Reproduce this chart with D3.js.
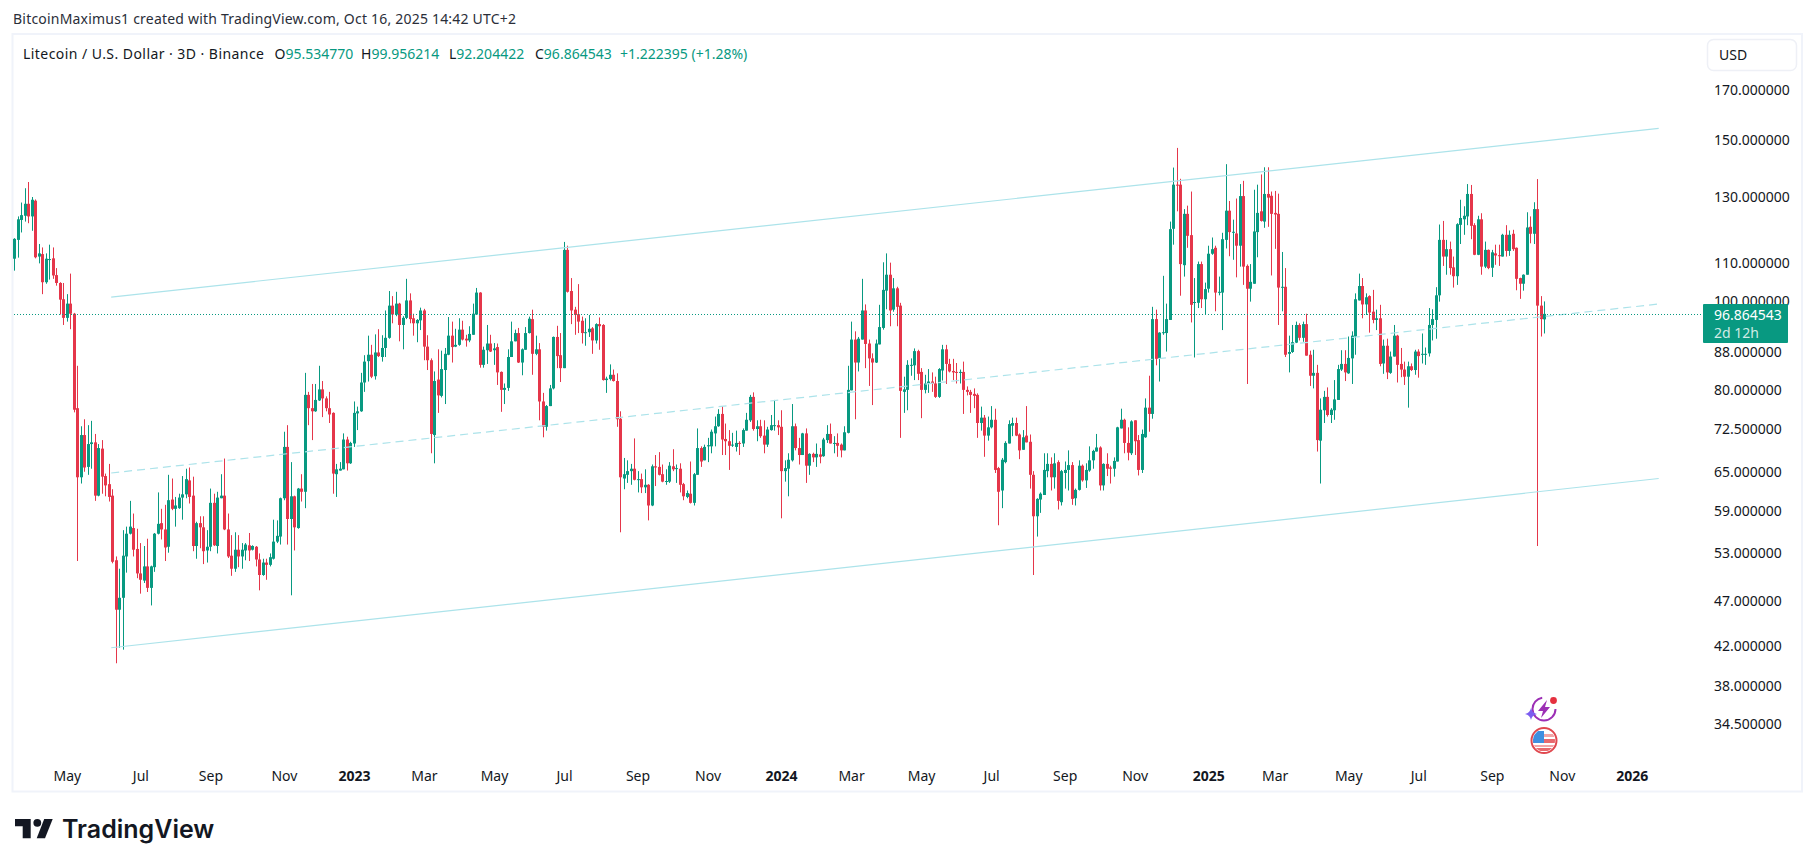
<!DOCTYPE html>
<html>
<head>
<meta charset="utf-8">
<title>LTCUSD 3D</title>
<script src="https://cdn.jsdelivr.net/npm/d3@7/dist/d3.min.js"></script>
<style>
  html, body { margin: 0; padding: 0; background: #fff; }
  svg { display: block; }
  text { font-family: "Noto Sans", "Open Sans", sans-serif; }
</style>
</head>
<body>
<svg id="chart" width="1815" height="867"></svg>
<script>
// Three-day candles, oldest first.
const opens = [
111.3,116.7,122.7,124.0,127.8,123.8,128.8,111.9,112.6,104.9,
111.0,111.4,106.8,104.7,100.5,95.9,99.4,96.9,76.4,64.2,
71.4,65.9,69.8,70.1,61.3,69.0,64.4,63.1,61.3,52.1,
46.0,47.4,52.6,55.7,56.5,53.6,50.4,49.5,51.3,48.6,
51.2,55.7,57.2,56.3,53.9,60.7,59.3,59.4,61.0,61.5,
63.7,61.3,54.0,57.2,56.6,53.4,53.9,60.2,54.0,60.9,
61.3,56.3,52.7,51.0,53.5,52.6,53.4,54.1,53.5,53.9,
52.2,50.2,51.8,51.5,52.3,54.6,55.3,60.9,69.3,57.8,
61.2,56.5,62.4,61.9,79.0,76.4,75.8,77.9,80.1,78.3,
76.4,75.5,64.7,65.3,65.5,70.6,66.5,69.9,75.4,75.8,
81.5,86.0,87.4,82.8,87.9,86.9,88.9,91.2,98.9,96.7,
99.4,94.2,95.9,100.2,95.8,94.6,95.3,97.7,89.2,86.2,
71.4,82.1,78.8,84.1,87.4,91.7,89.2,89.6,93.1,91.0,
90.6,91.9,96.7,102.2,85.2,88.4,89.9,88.4,89.1,83.7,
80.0,80.4,86.9,90.4,92.3,85.7,88.5,92.3,95.6,87.6,
88.6,77.7,72.9,76.8,80.3,91.4,87.3,84.5,113.8,102.6,
97.9,96.8,95.2,92.4,92.5,93.4,90.6,94.4,94.2,82.0,
82.2,83.1,81.8,74.4,64.0,64.6,65.2,65.6,63.8,63.9,
62.6,63.0,59.8,66.0,65.9,64.7,63.5,63.5,66.0,65.6,
65.6,63.1,61.1,61.6,60.2,64.6,69.1,67.0,69.4,69.4,
71.7,73.0,75.3,70.7,70.3,69.6,69.3,70.0,69.9,72.2,
74.1,78.6,72.5,73.0,71.3,69.7,72.3,73.1,73.2,72.9,
65.2,65.6,67.0,73.0,69.1,67.9,71.7,66.1,68.1,67.5,
68.0,67.7,70.5,71.6,69.9,70.0,69.7,68.7,71.8,79.9,
90.8,85.7,90.8,97.7,89.9,86.6,85.7,89.7,93.5,102.7,
106.9,97.9,103.3,98.9,79.6,80.0,85.1,85.1,88.2,83.7,
80.0,81.3,81.7,81.3,78.6,84.0,88.6,85.4,83.9,83.7,
83.6,83.7,80.0,79.6,79.2,79.0,73.6,74.6,71.3,72.8,
74.2,65.7,62.1,66.7,69.9,73.1,73.6,71.5,68.8,71.3,
70.2,64.6,58.2,60.7,61.4,65.2,66.4,64.2,66.7,60.3,
64.9,65.4,66.2,60.9,62.2,66.1,63.7,65.3,67.0,68.5,
69.2,62.9,66.4,65.8,65.6,66.8,72.6,74.2,70.0,68.2,
74.1,70.5,65.4,71.0,76.5,75.3,95.6,86.5,92.3,92.3,
95.4,120.0,134.1,134.1,109.5,124.6,118.1,99.6,99.6,109.8,
100.5,103.2,112.7,114.4,102.2,102.2,116.7,125.6,119.0,118.6,
115.0,130.3,109.3,103.2,104.5,119.0,125.4,122.2,131.0,130.4,
124.9,124.6,103.5,103.7,87.6,88.0,90.1,94.2,91.2,94.4,
87.4,82.9,83.5,70.4,76.0,78.6,75.1,76.0,78.0,84.2,
85.4,83.4,86.6,91.5,100.2,103.9,99.2,101.3,97.4,95.4,
95.8,85.5,89.4,83.5,87.0,91.7,85.4,84.2,82.7,84.9,
84.1,88.1,87.4,87.4,87.7,94.2,95.4,101.5,116.7,111.9,
114.0,108.9,106.5,121.2,122.9,123.8,131.0,121.1,112.4,122.9,
109.1,113.8,108.8,112.8,112.3,111.9,118.2,113.5,118.5,114.4,
106.0,104.5,106.9,120.6,118.5,126.1,98.9,95.53477];

const highs = [
117.2,123.8,128.2,132.9,135.0,130.0,129.2,115.5,114.5,112.8,
115.3,114.5,108.7,104.9,104.7,101.8,107.2,97.1,85.0,73.0,
74.3,73.2,74.0,71.6,69.8,70.5,64.8,66.4,62.3,52.6,
51.0,56.2,56.7,60.5,58.6,56.4,54.4,54.0,55.0,51.4,
55.8,61.8,59.3,59.9,64.6,64.0,61.1,61.6,64.4,65.6,
65.8,64.3,57.4,58.2,58.2,56.2,62.4,61.6,61.9,64.7,
67.3,58.6,55.5,55.9,55.5,54.4,54.4,55.8,54.1,54.0,
53.0,52.3,52.3,53.0,57.7,57.6,61.0,72.0,73.2,66.7,
61.3,62.5,64.7,83.5,79.6,81.2,81.2,85.0,81.8,78.7,
79.6,75.6,66.4,66.7,71.7,71.1,70.2,77.7,76.7,83.5,
87.3,91.7,89.6,92.0,93.2,91.8,97.7,102.6,101.3,102.4,
99.6,96.3,105.8,102.0,96.9,95.6,98.4,98.1,91.8,86.6,
83.8,88.6,88.3,88.9,96.1,95.0,93.3,95.8,95.2,91.9,
93.9,99.4,103.4,102.3,89.2,94.2,91.9,90.0,89.9,83.8,
81.3,88.6,95.0,93.1,93.5,88.8,93.7,96.2,97.9,91.7,
90.0,79.4,77.0,81.0,91.5,94.0,92.3,116.1,115.0,106.0,
98.6,104.4,96.2,95.8,96.6,93.7,94.6,96.0,94.4,82.7,
85.3,84.2,83.4,75.8,67.4,67.0,66.4,70.8,65.2,64.8,
65.5,63.1,66.3,67.9,68.4,66.3,65.5,66.7,68.9,66.3,
66.5,63.3,62.1,66.8,64.9,72.6,69.4,69.7,70.9,72.4,
74.8,76.2,76.8,73.5,72.3,71.8,72.2,70.3,72.6,75.5,
79.0,79.5,74.1,74.2,74.1,72.9,75.1,78.0,74.1,76.0,
67.0,68.2,77.2,73.5,70.9,71.8,72.6,68.2,68.3,69.9,
69.1,70.9,73.2,73.5,71.2,71.7,69.9,73.0,85.0,95.0,
92.7,91.4,105.8,99.2,90.8,87.7,90.8,99.1,110.3,112.8,
110.2,106.0,103.7,99.6,82.7,86.2,86.6,88.8,88.5,84.5,
83.1,84.3,83.6,82.7,84.5,89.6,89.6,86.5,86.5,85.6,
84.2,85.9,80.7,80.0,80.3,79.3,76.7,75.1,74.8,76.8,
76.3,65.9,67.4,70.3,74.1,74.6,74.6,71.7,72.3,76.8,
71.5,65.2,60.9,61.8,68.2,68.2,67.5,68.2,67.0,65.4,
66.8,68.7,66.7,62.4,67.0,66.3,66.5,69.4,68.8,71.6,
69.4,66.5,68.2,66.1,67.5,72.9,76.3,74.4,72.8,74.1,
74.1,71.4,72.4,78.3,82.9,98.6,97.9,92.5,106.6,99.4,
122.2,140.0,147.1,136.1,126.1,127.2,131.8,106.0,110.5,110.5,
104.8,115.0,117.4,115.0,106.4,118.8,141.2,128.7,122.8,129.5,
134.3,135.4,109.7,109.8,132.4,134.1,137.6,140.1,140.1,131.8,
132.0,131.1,113.2,108.7,91.7,94.2,95.0,94.6,95.0,96.9,
88.3,88.5,85.2,78.3,79.8,80.5,76.4,82.0,85.2,88.4,
88.4,91.5,92.7,102.0,107.2,106.0,102.0,101.5,102.9,97.9,
99.1,90.8,91.0,88.1,94.2,91.9,88.9,85.9,85.9,85.5,
88.5,88.6,92.2,89.0,98.3,98.0,103.6,121.3,122.4,116.7,
116.2,111.9,121.7,129.1,127.0,134.3,134.0,121.7,124.0,124.8,
116.2,113.9,113.8,115.3,115.3,118.5,121.1,119.5,119.7,114.5,
106.1,107.0,125.1,123.8,128.3,136.0,101.3,99.956214];

const lows = [
108.0,111.6,118.9,122.2,121.7,119.4,111.4,110.0,101.8,104.5,
105.6,105.8,104.0,96.7,94.2,95.0,93.2,75.6,52.0,63.2,
65.1,64.6,65.6,60.5,61.2,61.6,61.2,60.4,51.7,40.2,
41.8,41.6,50.5,55.6,52.6,49.8,47.9,49.2,48.1,46.5,
50.6,55.6,54.9,52.0,53.1,59.1,56.7,59.3,57.7,60.9,
60.1,53.3,52.3,53.7,51.6,51.8,53.3,54.0,53.0,60.9,
56.2,52.4,50.1,50.6,51.2,51.0,52.1,52.0,53.4,51.3,
48.3,50.1,49.6,51.3,52.2,54.4,54.2,60.6,54.2,47.7,
53.4,56.4,60.4,59.4,73.2,70.5,75.7,77.8,74.7,75.8,
73.6,61.6,61.1,65.3,65.5,65.3,66.4,69.3,72.3,75.7,
79.6,81.7,82.4,82.1,86.9,85.9,86.9,91.0,94.6,96.3,
90.4,88.6,95.6,94.6,91.7,90.2,93.0,86.2,84.1,68.2,
66.5,75.5,78.5,77.2,87.3,85.7,89.1,89.4,90.6,89.2,
90.2,91.9,96.6,84.6,84.6,85.4,88.0,85.2,81.0,75.7,
77.2,79.8,86.9,90.4,85.6,83.0,88.5,92.2,83.1,87.3,
74.1,71.0,72.2,76.8,80.1,84.5,81.6,84.5,102.2,94.4,
91.9,92.3,89.9,89.4,91.4,87.6,89.9,88.5,81.9,79.4,
81.9,81.7,72.9,55.9,62.3,63.3,63.0,63.7,61.8,61.7,
61.7,57.6,59.7,62.8,64.5,63.4,63.0,63.3,65.2,63.3,
61.8,60.6,60.9,60.1,59.8,64.6,65.9,67.0,66.7,68.2,
69.4,72.9,67.9,67.9,65.4,69.3,68.5,67.9,69.3,72.2,
73.8,72.2,70.3,70.9,68.2,69.3,72.2,72.2,71.4,57.9,
63.5,61.2,66.8,68.7,66.3,67.9,63.3,64.6,66.7,65.9,
66.5,67.6,70.0,69.9,68.2,67.6,67.5,68.7,71.7,79.9,
74.3,83.8,90.8,84.5,80.8,77.0,85.6,89.7,93.1,98.0,
93.9,97.4,93.9,70.9,75.5,76.0,82.9,82.0,82.0,74.5,
79.3,79.4,79.6,78.4,78.4,81.9,81.2,83.6,82.0,81.3,
81.3,75.3,78.9,75.5,76.4,70.9,72.2,67.6,70.4,72.6,
64.9,56.9,59.4,66.5,69.9,71.2,71.2,67.2,68.8,70.1,
62.4,50.2,55.3,58.7,61.4,64.2,62.1,62.4,59.2,59.8,
62.4,62.1,59.9,59.8,62.1,63.5,62.5,65.1,65.6,68.5,
62.1,62.1,64.4,63.2,64.3,66.8,72.6,68.2,67.0,67.9,
67.9,64.5,64.9,70.9,72.0,74.4,85.1,81.7,91.9,88.1,
95.4,115.3,125.4,101.4,106.4,114.4,94.8,86.8,98.3,98.3,
96.8,102.2,112.4,97.5,101.5,93.0,114.2,112.0,111.0,106.2,
109.1,104.2,81.2,99.9,104.5,111.7,122.2,120.3,120.6,106.7,
114.1,94.2,97.5,86.9,83.6,87.8,90.0,90.6,90.3,87.2,
80.8,80.3,68.5,63.2,73.6,74.8,73.6,74.2,78.0,83.9,
81.8,83.3,81.2,87.4,100.2,95.8,96.6,92.4,94.6,93.0,
84.9,83.3,82.2,83.3,87.0,81.5,82.6,81.0,76.5,83.9,
83.1,82.5,85.5,85.2,87.0,90.6,91.0,99.9,109.3,106.9,
106.9,103.5,104.2,115.5,118.2,121.1,116.9,112.3,112.3,106.9,
108.7,108.4,106.3,109.6,109.3,111.9,111.9,112.1,113.5,102.8,
100.6,102.7,106.9,115.7,115.5,54.0,91.5,92.204422];

const closes = [
117.0,122.9,124.2,127.8,123.8,129.1,111.7,112.8,104.9,111.3,
111.2,106.7,104.7,100.4,95.9,99.4,96.9,76.1,64.2,71.4,
65.8,69.8,70.1,61.3,69.1,64.3,62.9,61.1,51.9,46.0,
47.4,52.7,55.7,56.7,53.5,50.4,49.6,51.3,48.6,51.3,
55.7,57.1,56.3,53.8,60.6,59.3,59.8,61.0,61.5,63.9,
61.1,54.0,57.2,56.6,53.3,53.9,60.2,54.1,61.0,61.3,
56.3,52.6,51.0,53.5,52.6,53.5,54.2,53.4,54.0,52.2,
50.2,51.8,51.5,52.5,54.6,55.4,60.9,69.3,57.8,61.2,
56.6,62.4,61.9,79.0,76.4,75.8,78.0,80.1,78.3,76.4,
75.2,64.8,65.5,65.6,70.6,66.5,70.0,75.5,75.8,81.5,
85.9,87.4,82.7,87.9,87.1,88.9,91.2,98.9,96.7,99.4,
94.2,95.9,100.2,95.6,94.6,95.4,97.7,89.2,86.2,71.6,
81.8,78.9,84.3,87.6,91.7,89.1,89.6,93.1,90.8,90.6,
92.1,96.9,102.2,85.2,88.5,89.9,88.1,88.8,83.6,80.0,
80.4,86.9,90.4,92.3,85.7,88.6,92.3,95.7,87.6,88.6,
77.7,72.9,76.8,80.3,91.4,87.1,84.5,113.8,102.4,97.7,
96.6,95.0,92.3,92.5,93.3,90.6,94.4,93.9,82.0,82.3,
83.1,81.8,74.3,64.2,64.7,65.2,65.6,63.8,63.9,62.6,
63.0,59.8,66.0,65.8,64.6,63.5,63.6,66.1,65.5,65.7,
63.0,61.2,61.7,60.2,64.7,69.1,66.8,69.3,69.6,72.0,
73.0,75.3,70.6,70.3,69.5,69.7,70.0,69.9,72.3,74.2,
78.6,72.5,73.0,71.2,69.7,72.4,73.2,73.2,72.8,65.2,
65.7,67.1,73.0,69.1,67.9,71.7,66.1,68.1,67.5,68.1,
67.6,70.6,71.6,69.9,70.0,69.5,68.7,71.9,80.0,90.8,
85.7,91.0,97.7,89.8,86.6,85.7,89.9,93.7,102.9,106.9,
97.7,103.3,98.6,79.8,80.1,85.2,85.2,88.2,83.3,80.0,
81.3,81.7,81.3,78.6,84.3,88.6,85.4,83.8,83.6,83.6,
83.7,80.0,79.6,79.0,78.8,73.6,74.6,71.3,72.8,74.2,
65.4,61.9,67.1,70.0,73.4,73.6,71.3,68.7,71.0,70.1,
64.6,58.2,60.8,61.6,65.4,66.4,64.2,66.5,60.5,65.2,
65.4,66.2,60.8,62.2,66.1,63.7,65.4,67.0,68.6,69.2,
62.9,66.4,65.6,65.6,66.9,72.8,74.2,70.0,68.3,73.9,
70.3,65.4,71.6,76.5,75.3,95.6,86.5,92.4,92.5,95.6,
119.9,134.1,133.9,109.8,124.6,117.9,99.1,99.8,109.8,100.5,
103.1,112.7,114.0,102.2,102.4,116.9,125.6,119.0,119.1,115.0,
130.3,109.1,103.2,105.0,119.2,124.9,122.4,131.0,129.8,124.6,
124.4,103.5,103.7,87.4,88.0,90.2,94.2,91.2,94.4,87.2,
82.9,83.5,70.5,76.1,78.6,75.1,76.1,78.1,84.3,85.4,
83.6,86.7,91.7,100.5,103.9,99.2,101.0,97.2,95.4,95.8,
85.4,89.4,83.6,87.0,91.7,85.2,84.2,82.7,84.9,84.1,
88.1,87.1,87.6,87.6,94.2,95.6,101.5,116.7,111.9,114.0,
108.7,106.5,121.4,123.3,124.0,131.0,120.9,112.4,122.9,109.1,
113.8,108.7,113.1,112.2,112.0,118.2,113.5,118.2,114.0,105.8,
104.5,106.9,120.4,118.5,126.1,98.9,95.6,96.864543];

// Price axis and time axis labels.
const priceTicks = [170, 150, 130, 110, 100, 88, 80, 72.5, 65, 59, 53, 47, 42, 38, 34.5];
const monthTicks = ["2022-05-01","2022-07-01","2022-09-01","2022-11-01","2023-01-01","2023-03-01",
  "2023-05-01","2023-07-01","2023-09-01","2023-11-01","2024-01-01","2024-03-01","2024-05-01",
  "2024-07-01","2024-09-01","2024-11-01","2025-01-01","2025-03-01","2025-05-01","2025-07-01",
  "2025-09-01","2025-11-01","2026-01-01"];

// Parallel channel drawn on the chart: [date, price] at each end.
const channelUpper = [["2022-06-06", 101.05], ["2026-01-22", 154.5]];
const channelMiddle = [["2022-06-06", 64.9], ["2026-01-22", 99.3]];
const channelLower = [["2022-06-06", 41.8], ["2026-01-22", 64.0]];

const legendTitle = "Litecoin / U.S. Dollar · 3D · Binance";
const legendChange = "+1.222395 (+1.28%)";
const credit = "BitcoinMaximus1 created with TradingView.com, Oct 16, 2025 14:42 UTC+2";
const lastBarDate = "2025-10-16";
const barDays = 3;
const countdown = "2d 12h";

const UP = "#089981", DOWN = "#e5364a", CHANNEL = "#ace3ea", INK = "#131722";

const svg = d3.select("#chart");
const parse = d3.utcParse("%Y-%m-%d");
const n = closes.length;
const lastDate = parse(lastBarDate);
const dates = closes.map((_, i) => d3.utcDay.offset(lastDate, -barDays * (n - 1 - i)));

const x = d3.scaleUtc().domain([dates[0], lastDate]).range([14.33, 1544.3]);
const y = d3.scaleLog().domain([130, 34.5]).range([197, 724]);

// A month label sits on the bar that contains the first of that month.
const barOf = d => {
  const days = d3.utcDay.count(lastDate, d);
  return d3.utcDay.offset(lastDate, barDays * Math.floor(days / barDays));
};

// Panel outline
svg.append("rect").attr("x", 12.5).attr("y", 34).attr("width", 1789.5).attr("height", 757.5)
  .attr("fill", "#fff").attr("stroke", "#f0f3fa").attr("stroke-width", 2);

// Candles: one wick and one body per bar, snapped to whole pixels.
const candles = svg.append("g").attr("class", "candles")
  .selectAll("g").data(d3.range(n)).join("g")
  .attr("fill", i => closes[i] >= opens[i] ? UP : DOWN);
candles.append("rect")
  .attr("x", i => Math.round(x(dates[i])))
  .attr("width", 1)
  .attr("y", i => y(highs[i]))
  .attr("height", i => y(lows[i]) - y(highs[i]));
candles.append("rect")
  .attr("x", i => Math.round(x(dates[i])) - 1)
  .attr("width", 3)
  .attr("y", i => Math.min(y(opens[i]), y(closes[i])))
  .attr("height", i => Math.max(1, Math.abs(y(opens[i]) - y(closes[i]))));

// Channel lines
const channelLine = d3.line().x(d => x(parse(d[0]))).y(d => y(d[1]));
[channelUpper, channelLower].forEach(pts =>
  svg.append("path").attr("d", channelLine(pts)).attr("fill", "none")
    .attr("stroke", CHANNEL).attr("stroke-width", 1.2));
svg.append("path").attr("d", channelLine(channelMiddle)).attr("fill", "none")
  .attr("stroke", CHANNEL).attr("stroke-width", 1.2).attr("stroke-dasharray", "8 5");

// Last-price line
const lastClose = closes[n - 1];
svg.append("line").attr("x1", 14).attr("x2", 1703)
  .attr("y1", Math.round(y(lastClose)) + 0.5).attr("y2", Math.round(y(lastClose)) + 0.5)
  .attr("stroke", UP).attr("stroke-width", 1).attr("stroke-dasharray", "1 2");

// Price axis
const yAxis = svg.append("g").attr("transform", "translate(1714,0)")
  .call(d3.axisRight(y).tickValues(priceTicks).tickSize(0).tickPadding(0).tickFormat(d3.format(".6f")));
yAxis.select(".domain").remove();
yAxis.selectAll("text").attr("font-size", 14).attr("fill", INK);
yAxis.attr("font-family", null);

// Time axis: years are set in bold
const monthDates = monthTicks.map(parse);
const isYear = i => monthDates[i].getUTCMonth() === 0;
const xAxis = svg.append("g").attr("transform", "translate(0,771)")
  .call(d3.axisBottom(x).tickValues(monthDates.map(barOf)).tickSize(0).tickPadding(0)
    .tickFormat((_, i) => d3.utcFormat(isYear(i) ? "%Y" : "%b")(monthDates[i])));
xAxis.select(".domain").remove();
xAxis.attr("font-family", null);
xAxis.selectAll("text").attr("font-size", 14).attr("fill", INK)
  .attr("font-weight", (_, i) => isYear(i) ? 700 : 400);

// Last-price tag
const tagY = y(lastClose);
svg.append("rect").attr("x", 1703).attr("y", tagY - 10).attr("width", 85).attr("height", 39)
  .attr("rx", 1).attr("fill", UP);
svg.append("text").attr("x", 1714).attr("y", tagY + 6).attr("font-size", 14).attr("fill", "#fff")
  .text(lastClose.toFixed(6));
svg.append("text").attr("x", 1714).attr("y", tagY + 24).attr("font-size", 14)
  .attr("fill", "rgba(255,255,255,0.82)").text(countdown);

// Credit line
svg.append("text").attr("x", 13).attr("y", 24).attr("font-size", 14).attr("fill", "#2a2e39")
  .attr("textLength", 503).attr("lengthAdjust", "spacing").text(credit);

// Legend
svg.append("text").attr("x", 23).attr("y", 58.5).attr("font-size", 14).attr("fill", INK)
  .attr("textLength", 241).attr("lengthAdjust", "spacing").text(legendTitle);
const legend = svg.append("text").attr("y", 58.5).attr("font-size", 14).attr("fill", INK);
const ohlc = [["O", opens[n - 1], 274.5], ["H", highs[n - 1], 361], ["L", lows[n - 1], 449], ["C", closes[n - 1], 535]];
ohlc.forEach(([k, v, px]) => {
  legend.append("tspan").attr("x", px).text(k);
  legend.append("tspan").attr("fill", UP).text(v.toFixed(6));
});
legend.append("tspan").attr("x", 620).attr("fill", UP).text(legendChange);

// Currency button
svg.append("rect").attr("x", 1707.5).attr("y", 39.5).attr("width", 89).attr("height", 31).attr("rx", 6)
  .attr("fill", "#fff").attr("stroke", "#eef0f6").attr("stroke-width", 1.5);
svg.append("text").attr("x", 1719).attr("y", 59.5).attr("font-size", 14).attr("fill", INK).text("USD");

// Event icons near the time axis
const bolt = svg.append("g").attr("transform", "translate(1544,709)");
bolt.append("circle").attr("r", 11.5).attr("fill", "none").attr("stroke", "#9c2fb5").attr("stroke-width", 2)
  .attr("stroke-dasharray", "52 20");
bolt.append("path").attr("d", "M3,-9 L-6,2 L-1,2 L-3,9 L6,-2 L1,-2 Z").attr("fill", "#9c2fb5");
bolt.append("path").attr("d", "M-13,-1 Q-12,4 -7,5 Q-12,6 -13,11 Q-14,6 -19,5 Q-14,4 -13,-1 Z").attr("fill", "#7b5cf0");
bolt.append("circle").attr("cx", 9.5).attr("cy", -8.5).attr("r", 3.4).attr("fill", "#e5303f");

const flag = svg.append("g").attr("transform", "translate(1544,740.5)");
svg.append("clipPath").attr("id", "flagClip").append("circle").attr("cx", 1544).attr("cy", 740.5).attr("r", 11);
const flagFill = svg.append("g").attr("clip-path", "url(#flagClip)");
flagFill.append("rect").attr("x", 1533).attr("y", 729).attr("width", 22).attr("height", 23).attr("fill", "#fff");
[[734, 3, "#f2a6a8"], [739, 4, "#e8696e"], [745, 2, "#f2a6a8"], [748, 3, "#e8696e"]].forEach(s =>
  flagFill.append("rect").attr("x", 1533).attr("y", s[0]).attr("width", 22).attr("height", s[1]).attr("fill", s[2]));
flagFill.append("rect").attr("x", 1533).attr("y", 731).attr("width", 11).attr("height", 12).attr("fill", "#3f8fe0");
flag.append("circle").attr("r", 12.5).attr("fill", "none").attr("stroke", "#e0484f").attr("stroke-width", 2);

// Wordmark
const mark = svg.append("g").attr("fill", "#131722");
mark.append("path").attr("d", "M15,819 H30.7 V838.3 H22.7 V826.3 H15 Z");
mark.append("circle").attr("cx", 37.3).attr("cy", 822.8).attr("r", 3.9);
mark.append("path").attr("d", "M44.2,819 H52.7 L45,838.3 H36.7 Z");
svg.append("text").attr("x", 62).attr("y", 838.3).attr("font-size", 25).attr("font-weight", 600)
  .attr("fill", "#131722").style("font-family", "Inter, sans-serif").text("TradingView");
</script>
</body>
</html>
